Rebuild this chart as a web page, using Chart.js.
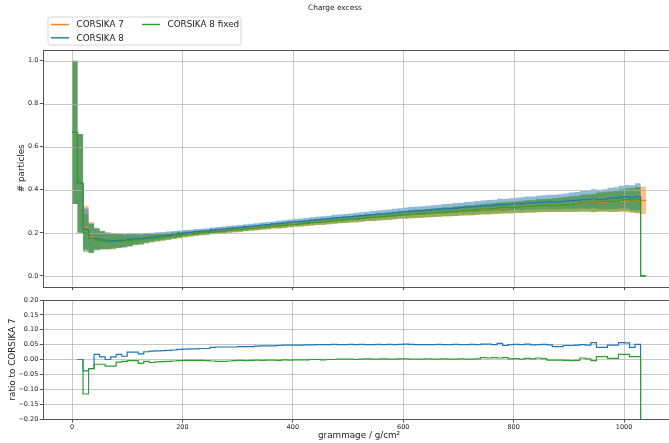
<!DOCTYPE html>
<html>
<head>
<meta charset="utf-8">
<script src="https://cdn.jsdelivr.net/npm/chart.js@4.4.1/dist/chart.umd.min.js"></script>
<style>
  html, body { margin: 0; padding: 0; background: #fff; overflow: hidden; width: 669px; height: 443px; }
  #top { position: absolute; left: 0; top: 0; }
  #bottom { position: absolute; left: 0; top: 292px; }
</style>
</head>
<body>
<canvas id="top" width="690" height="292"></canvas>
<canvas id="bottom" width="690" height="151"></canvas>
<script>
// charge excess per 10 g/cm2 bin, bins start at 0
const binWidth = 10;

const corsika7 = [
  0.667, 0.430, 0.225, 0.180, 0.170, 0.166, 0.163, 0.162, 0.162, 0.163,
  0.165, 0.168, 0.170, 0.173, 0.176, 0.179, 0.181, 0.184, 0.187, 0.190,
  0.193, 0.195, 0.198, 0.200, 0.202, 0.205, 0.207, 0.209, 0.212, 0.214,
  0.216, 0.219, 0.221, 0.223, 0.226, 0.228, 0.231, 0.233, 0.235, 0.238,
  0.240, 0.242, 0.244, 0.247, 0.249, 0.251, 0.253, 0.256, 0.258, 0.260,
  0.262, 0.264, 0.266, 0.269, 0.271, 0.273, 0.275, 0.277, 0.280, 0.282,
  0.284, 0.286, 0.288, 0.289, 0.291, 0.293, 0.295, 0.297, 0.298, 0.300,
  0.302, 0.304, 0.305, 0.307, 0.309, 0.310, 0.312, 0.314, 0.315, 0.317,
  0.319, 0.320, 0.322, 0.323, 0.325, 0.326, 0.328, 0.329, 0.331, 0.332,
  0.334, 0.335, 0.337, 0.338, 0.339, 0.341, 0.342, 0.344, 0.345, 0.346,
  0.348, 0.349, 0.350, 0.351
];

// statistical uncertainty (half width of the band)
const errStat = [
  0.333, 0.230, 0.100, 0.070, 0.050, 0.042, 0.038, 0.035, 0.032, 0.030,
  0.028, 0.025, 0.023, 0.021, 0.019, 0.018, 0.017, 0.016, 0.015, 0.014,
  0.013, 0.012, 0.012, 0.011, 0.011, 0.011, 0.011, 0.011, 0.011, 0.011,
  0.011, 0.011, 0.011, 0.011, 0.011, 0.011, 0.011, 0.012, 0.012, 0.012,
  0.012, 0.012, 0.012, 0.013, 0.013, 0.013, 0.013, 0.014, 0.014, 0.014,
  0.014, 0.015, 0.015, 0.015, 0.016, 0.016, 0.016, 0.017, 0.017, 0.017,
  0.018, 0.018, 0.019, 0.019, 0.019, 0.020, 0.020, 0.021, 0.021, 0.022,
  0.022, 0.023, 0.023, 0.024, 0.024, 0.025, 0.025, 0.026, 0.026, 0.027,
  0.027, 0.028, 0.029, 0.029, 0.030, 0.030, 0.031, 0.032, 0.033, 0.034,
  0.036, 0.037, 0.039, 0.040, 0.042, 0.044, 0.045, 0.047, 0.048, 0.050,
  0.052, 0.056, 0.060, 0.064
];

// ratio to CORSIKA 7 (value - 1)
const ratioC8 = [
  null, 0.000, -0.038, -0.031, 0.017, 0.009, 0.000, 0.009, 0.017, 0.011,
  0.025, 0.025, 0.019, 0.026, 0.028, 0.029, 0.030, 0.031, 0.032, 0.034,
  0.035, 0.036, 0.036, 0.037, 0.037, 0.041, 0.042, 0.042, 0.042, 0.042,
  0.043, 0.043, 0.043, 0.045, 0.046, 0.046, 0.046, 0.047, 0.048, 0.048,
  0.048, 0.048, 0.049, 0.049, 0.050, 0.050, 0.050, 0.051, 0.050, 0.050,
  0.051, 0.050, 0.051, 0.050, 0.050, 0.051, 0.050, 0.051, 0.050, 0.051,
  0.052, 0.051, 0.050, 0.050, 0.050, 0.050, 0.051, 0.050, 0.050, 0.051,
  0.050, 0.050, 0.051, 0.050, 0.052, 0.052, 0.050, 0.054, 0.047, 0.050,
  0.051, 0.050, 0.052, 0.049, 0.050, 0.051, 0.049, 0.043, 0.043, 0.047,
  0.047, 0.048, 0.050, 0.048, 0.057, 0.041, 0.041, 0.048, 0.048, 0.057,
  0.056, 0.041, 0.051, -1
];

const ratioFixed = [
  null, 0.000, -0.116, -0.031, -0.016, -0.016, -0.022, -0.022, -0.009, -0.006,
  -0.004, -0.004, -0.013, -0.006, -0.010, -0.008, -0.007, -0.006, -0.005, -0.004,
  -0.003, -0.003, -0.003, -0.003, -0.004, -0.005, -0.006, -0.006, -0.005, -0.004,
  -0.003, -0.004, -0.003, -0.002, -0.003, -0.002, -0.002, -0.003, -0.001, -0.002,
  -0.001, -0.001, -0.001, 0.000, 0.000, -0.001, 0.000, 0.000, 0.001, 0.001,
  0.001, 0.000, 0.001, 0.002, 0.001, 0.001, 0.002, 0.001, 0.001, 0.002,
  0.002, 0.001, 0.001, 0.001, 0.002, 0.001, 0.001, 0.002, 0.001, 0.001,
  0.002, 0.001, 0.001, 0.002, 0.006, 0.005, 0.006, 0.005, 0.006, 0.002,
  0.003, 0.001, 0.004, 0.002, 0.005, 0.003, -0.002, -0.002, -0.002, -0.003,
  -0.004, -0.003, 0.005, 0.002, -0.004, 0.010, 0.010, 0.004, 0.004, 0.017,
  0.017, 0.010, 0.010, -1
];

const xTicks = [0, 200, 400, 600, 800, 1000];

const ORANGE = '#ff7f0e', BLUE = '#1f77b4', GREEN = '#2ca02c';
const GRID = 'rgba(176,176,176,0.7)';
const SPINE = '#555';
const FONT = 'DejaVu Sans';

// derived series
function fromRatio(ratio) {
  return corsika7.map((v, i) => ratio[i] === null ? v : v * (1 + ratio[i]));
}
function errFromRatio(ratio) {
  return errStat.map((e, i) => ratio[i] === null ? e : e * (1 + ratio[i]));
}
const corsika8 = fromRatio(ratioC8);
const corsika8Fixed = fromRatio(ratioFixed);

function stairs(values) {
  const pts = values.map((v, i) => ({ x: i * binWidth, y: v }));
  pts.push({ x: values.length * binWidth, y: values[values.length - 1] });
  return pts;
}

function band(values, errs, color, order, gridOver) {
  return [
    {
      data: stairs(values.map((v, i) => v + errs[i])),
      borderWidth: 0, borderColor: 'rgba(0,0,0,0)', backgroundColor: color,
      fill: '+1', stepped: 'before', order: order, gridOver: gridOver
    },
    {
      data: stairs(values.map((v, i) => v - errs[i])),
      borderWidth: 0, borderColor: 'rgba(0,0,0,0)', fill: false,
      stepped: 'before', order: order
    }
  ];
}

function line(values, color, order) {
  return {
    data: stairs(values), borderColor: color, borderWidth: 1.2,
    fill: false, stepped: 'before', order: order
  };
}

function drawGrid(chart) {
  const { ctx, chartArea: a, scales } = chart;
  ctx.save();
  ctx.strokeStyle = GRID;
  ctx.lineWidth = 1;
  ctx.beginPath();
  scales.x.ticks.forEach((t) => {
    const px = Math.round(scales.x.getPixelForValue(t.value)) + 0.5;
    ctx.moveTo(px, a.top);
    ctx.lineTo(px, a.bottom);
  });
  scales.y.ticks.forEach((t) => {
    const py = Math.round(scales.y.getPixelForValue(t.value)) + 0.5;
    ctx.moveTo(a.left, py);
    ctx.lineTo(a.right, py);
  });
  ctx.stroke();
  ctx.restore();
}

const frame = {
  id: 'frame',
  afterDatasetDraw(chart, args) {
    if (chart.data.datasets[args.index].gridOver) drawGrid(chart);
  },
  afterDraw(chart) {
    const { ctx, chartArea: a } = chart;
    ctx.save();
    ctx.strokeStyle = SPINE;
    ctx.lineWidth = 1;
    ctx.strokeRect(Math.round(a.left) + 0.5, Math.round(a.top) + 0.5,
      Math.round(a.right - a.left), Math.round(a.bottom - a.top));
    ctx.restore();
  }
};

const legendEntries = [
  { label: 'CORSIKA 7', color: ORANGE, col: 0, row: 0 },
  { label: 'CORSIKA 8', color: BLUE, col: 0, row: 1 },
  { label: 'CORSIKA 8 fixed', color: GREEN, col: 1, row: 0 }
];

const decor = {
  id: 'decor',
  afterDraw(chart) {
    const ctx = chart.ctx;
    ctx.save();
    ctx.fillStyle = '#222';
    ctx.font = '7.4px "' + FONT + '"';
    ctx.textAlign = 'center';
    ctx.textBaseline = 'middle';
    ctx.fillText('Charge excess', 335, 8);

    // legend box
    const bx = 48, by = 17, bw = 193, bh = 28, r = 2.5;
    ctx.beginPath();
    ctx.moveTo(bx + r, by);
    ctx.arcTo(bx + bw, by, bx + bw, by + bh, r);
    ctx.arcTo(bx + bw, by + bh, bx, by + bh, r);
    ctx.arcTo(bx, by + bh, bx, by, r);
    ctx.arcTo(bx, by, bx + bw, by, r);
    ctx.closePath();
    ctx.fillStyle = 'rgba(255,255,255,0.8)';
    ctx.fill();
    ctx.strokeStyle = '#d6d6d6';
    ctx.lineWidth = 1;
    ctx.stroke();

    ctx.font = '8.8px "' + FONT + '"';
    ctx.textAlign = 'left';
    legendEntries.forEach((e) => {
      const x0 = 51 + e.col * 91;
      const y0 = 24.5 + e.row * 13.3;
      ctx.strokeStyle = e.color;
      ctx.lineWidth = 1.4;
      ctx.beginPath();
      ctx.moveTo(x0, y0);
      ctx.lineTo(x0 + 18, y0);
      ctx.stroke();
      ctx.fillStyle = '#222';
      ctx.fillText(e.label, x0 + 25.5, y0 + 0.5);
    });
    ctx.restore();
  }
};

const tickFont = { family: FONT, size: 6.5 };
const labelFont = { family: FONT, size: 8.8 };

function fmtRatio(v) {
  if (Math.abs(v) < 1e-9) return '0.00';
  return v < 0 ? '\u2212' + (-v).toFixed(2) : v.toFixed(2);
}

const xScale = (showLabels, height) => ({
  type: 'linear', min: -52, max: 1092,
  afterBuildTicks: (s) => { s.ticks = xTicks.map((v) => ({ value: v })); },
  afterFit: (s) => { s.height = height; },
  ticks: {
    font: tickFont, color: showLabels ? '#222' : 'rgba(0,0,0,0)',
    autoSkip: false, maxRotation: 0, padding: 0.5,
    callback: (v) => String(v)
  },
  border: { display: false }
});

const topChart = new Chart(document.getElementById('top'), {
  type: 'line',
  data: {
    datasets: [
      ...band(corsika7, errStat, 'rgba(255,127,14,0.5)', 13, false),
      ...band(corsika8, errFromRatio(ratioC8), 'rgba(31,119,180,0.5)', 12, false),
      ...band(corsika8Fixed, errFromRatio(ratioFixed), 'rgba(44,160,44,0.5)', 11, true),
      line(corsika7, ORANGE, 3),
      line(corsika8, BLUE, 2),
      line(corsika8Fixed, GREEN, 1)
    ]
  },
  options: {
    responsive: false,
    animation: false,
    layout: { padding: { top: 50, right: 15.2, bottom: 0, left: 0 } },
    elements: { point: { radius: 0 } },
    plugins: { legend: { display: false }, tooltip: { enabled: false }, title: { display: false } },
    scales: {
      x: Object.assign(xScale(false, 4), {
        grid: { drawOnChartArea: false, tickLength: 3.5, tickColor: SPINE }
      }),
      y: {
        min: -0.05, max: 1.05,
        afterBuildTicks: (s) => { s.ticks = [0, 0.2, 0.4, 0.6, 0.8, 1.0].map((v) => ({ value: v })); },
        afterFit: (s) => { s.width = 43.3; },
        ticks: { font: tickFont, color: '#222', padding: 1.5, callback: (v) => v.toFixed(1) },
        title: { display: true, text: '# particles', font: labelFont, color: '#222', padding: { top: 16.7 } },
        grid: { drawOnChartArea: false, tickLength: 3.5, tickColor: SPINE },
        border: { display: false }
      }
    }
  },
  plugins: [frame, decor]
});

const ratioLine = (values, color, order) => ({
  data: values.map((v, i) => ({ x: i * binWidth, y: v })),
  borderColor: color, borderWidth: 1.2, fill: false,
  stepped: 'before', spanGaps: false, order: order
});

const bottomChart = new Chart(document.getElementById('bottom'), {
  type: 'line',
  data: {
    datasets: [
      ratioLine(ratioC8, BLUE, 2),
      ratioLine(ratioFixed, GREEN, 1)
    ]
  },
  options: {
    responsive: false,
    animation: false,
    layout: { padding: { top: 8, right: 15.2, bottom: 0, left: 0 } },
    elements: { point: { radius: 0 } },
    plugins: { legend: { display: false }, tooltip: { enabled: false } },
    scales: {
      x: Object.assign(xScale(true, 24), {
        title: { display: true, text: 'grammage / g/cm\u00b2', font: labelFont, color: '#222', padding: { bottom: 2 } },
        grid: { color: GRID, lineWidth: 1, tickLength: 3.5, tickColor: SPINE }
      }),
      y: {
        min: -0.2, max: 0.2,
        afterBuildTicks: (s) => {
          s.ticks = [-0.2, -0.15, -0.1, -0.05, 0, 0.05, 0.1, 0.15, 0.2].map((v) => ({ value: v }));
        },
        afterFit: (s) => { s.width = 43.3; },
        ticks: { font: tickFont, color: '#222', padding: 1.5, callback: fmtRatio },
        title: { display: true, text: 'ratio to CORSIKA 7', font: labelFont, color: '#222', padding: { top: 7.2 } },
        grid: { color: GRID, lineWidth: 1, tickLength: 3.5, tickColor: SPINE },
        border: { display: false }
      }
    }
  },
  plugins: [frame]
});
</script>
</body>
</html>
